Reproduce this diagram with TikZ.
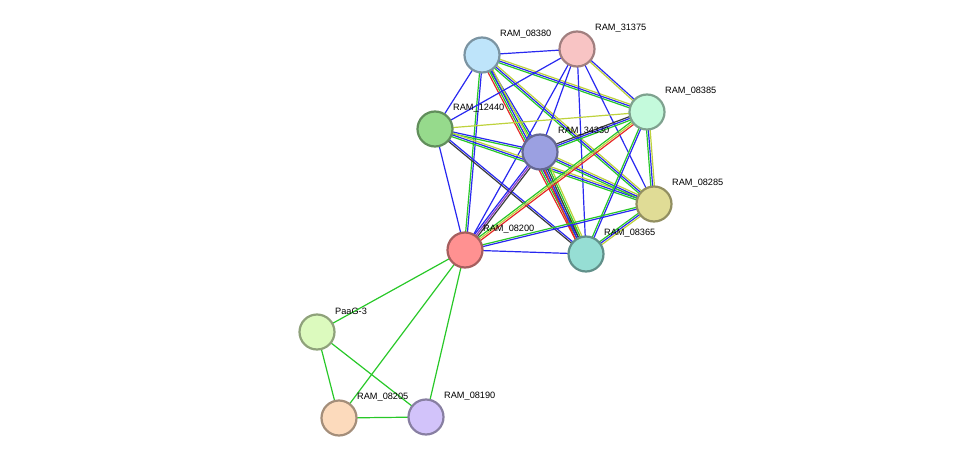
\documentclass[tikz,border=0pt]{standalone}
\usepackage{fontspec}
\setmainfont{Liberation Sans}
\usetikzlibrary{calc}
\definecolor{cb}{RGB}{40,40,240}
\definecolor{cg}{RGB}{40,200,40}
\definecolor{cy}{RGB}{190,210,60}
\definecolor{ck}{RGB}{60,60,60}
\definecolor{cr}{RGB}{230,40,40}
\definecolor{cp}{RGB}{140,60,200}
\tikzset{
 prot/.style={circle,minimum size=35pt,inner sep=0pt,line width=2.2pt,draw=#1!65!black,fill=#1},
 lab/.style={anchor=west,font=\fontsize{9.2}{11}\selectfont,inner sep=0pt},
 edg/.style={line width=1.2pt}
}
% \medge{a}{b}{list of colors}
\newcommand{\medge}[3]{%
 \foreach \c [count=\i] in {#3}{\xdef\ncount{\i}}%
 \foreach \c [count=\i] in {#3}{%
  \pgfmathsetmacro{\off}{(\i-(\ncount+1)/2)*1.8}%
  \draw[edg,\c] ($(#1)!\off pt!90:(#2)$) -- ($(#2)!\off pt!-90:(#1)$);}}
\begin{document}
\begin{tikzpicture}[x=1pt,y=-1pt]
\useasboundingbox (0,0) rectangle (975,463);
\definecolor{c08380}{RGB}{190,228,250}
\definecolor{c31375}{RGB}{248,196,196}
\definecolor{c08385}{RGB}{196,250,220}
\definecolor{c12440}{RGB}{150,218,140}
\definecolor{c34330}{RGB}{155,160,225}
\definecolor{c08285}{RGB}{224,220,150}
\definecolor{c08200}{RGB}{255,145,145}
\definecolor{c08365}{RGB}{150,222,212}
\definecolor{cPaaG}{RGB}{220,250,190}
\definecolor{c08205}{RGB}{252,218,188}
\definecolor{c08190}{RGB}{210,195,250}
\coordinate (p08380) at (482,55);
\coordinate (p31375) at (577,49);
\coordinate (p08385) at (647,112);
\coordinate (p12440) at (435,129);
\coordinate (p34330) at (540,152);
\coordinate (p08285) at (654,204);
\coordinate (p08200) at (465,250);
\coordinate (p08365) at (586,254);
\coordinate (pPaaG) at (317,332);
\coordinate (p08205) at (339,418);
\coordinate (p08190) at (426,417);
\medge{p08380}{p31375}{cb}
\medge{p08380}{p08385}{cg,cb,cy}
\medge{p08380}{p12440}{cb}
\medge{p08380}{p34330}{cg,cb}
\medge{p08380}{p08365}{cr,cg,cb,cy}
\medge{p08380}{p08285}{cg,cb,cy}
\medge{p08380}{p08200}{cg,cb}
\medge{p31375}{p12440}{cb}
\medge{p31375}{p34330}{cb}
\medge{p31375}{p08385}{cy,cb}
\medge{p31375}{p08285}{cb}
\medge{p31375}{p08365}{cb}
\medge{p31375}{p08200}{cb}
\medge{p12440}{p08385}{cy}
\medge{p12440}{p34330}{cg,cb}
\medge{p12440}{p08285}{cg,cb,cy}
\medge{p12440}{p08365}{ck,cb}
\medge{p12440}{p08200}{cb}
\medge{p34330}{p08385}{cg,cb,ck}
\medge{p34330}{p08285}{cg,cb,cy}
\medge{p34330}{p08365}{cr,cb,ck,cg,cy}
\medge{p34330}{p08200}{cb,cp,ck}
\medge{p08385}{p08285}{cg,cb,cy}
\medge{p08385}{p08365}{cg,cb}
\medge{p08385}{p08200}{cg,cy,cr}
\medge{p08285}{p08365}{cg,cb,cy}
\medge{p08285}{p08200}{cg,cb}
\medge{p08365}{p08200}{cb}
\medge{p08200}{pPaaG}{cg}
\medge{p08200}{p08205}{cg}
\medge{p08200}{p08190}{cg}
\medge{pPaaG}{p08205}{cg}
\medge{pPaaG}{p08190}{cg}
\medge{p08205}{p08190}{cg}
\foreach \n/\t in {08380/RAM\_08380,31375/RAM\_31375,08385/RAM\_08385,12440/RAM\_12440,34330/RAM\_34330,08285/RAM\_08285,08200/RAM\_08200,08365/RAM\_08365,PaaG/PaaG-3,08205/RAM\_08205,08190/RAM\_08190}{
 \node[prot=c\n] (n\n) at (p\n) {};
 \node[lab] (l\n) at ($(p\n)+(18,-21)$) {\t};
}
\end{tikzpicture}
\end{document}
